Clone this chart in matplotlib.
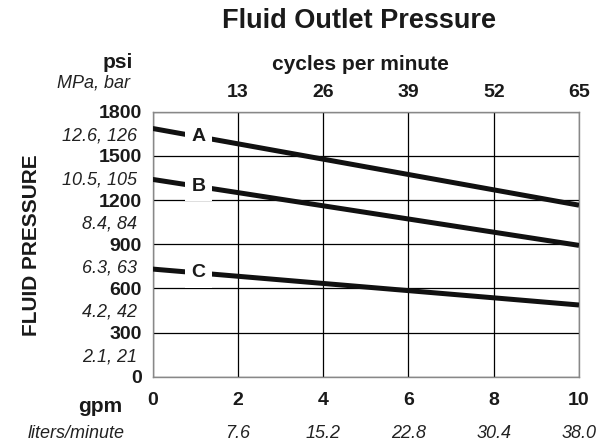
import matplotlib
matplotlib.use('Agg')
import matplotlib.pyplot as plt
import matplotlib.transforms as mtransforms

plt.rcParams['font.family'] = ['Liberation Sans', 'DejaVu Sans']

# flow (gpm) and fluid pressure (psi) for the three curves
gpm = [0, 10]
curve_a = [1686, 1165]
curve_b = [1340, 892]
curve_c = [731, 487]
curve_names = ['A', 'B', 'C']

gpm_ticks = [0, 2, 4, 6, 8, 10]
lpm_labels = ['7.6', '15.2', '22.8', '30.4', '38.0']
cpm_labels = ['13', '26', '39', '52', '65']
psi_ticks = [0, 300, 600, 900, 1200, 1500, 1800]
mpa_ticks = [150, 450, 750, 1050, 1350, 1650]
mpa_labels = ['2.1, 21', '4.2, 42', '6.3, 63', '8.4, 84', '10.5, 105', '12.6, 126']

ink = '#1a1a1a'

fig = plt.figure(figsize=(5.99, 4.47), dpi=100)
ax = fig.add_axes([152.7/599, 1-376.7/447, (579-152.7)/599, (376.7-111.7)/447])

for y, name in zip([curve_a, curve_b, curve_c], curve_names):
   ax.plot(gpm, y, color='#111111', lw=3.6, solid_capstyle='butt', zorder=3)
   ylab = y[0] + (y[1]-y[0]) * 1.07 / 10
   ax.text(1.07, ylab, name, fontsize=14, fontweight='bold', ha='center', va='center', color=ink,
           bbox=dict(facecolor='white', edgecolor='none', pad=4.5), zorder=4)

ax.set_xlim(0, 10)
ax.set_ylim(0, 1800)
ax.set_xticks(gpm_ticks)
ax.set_xticklabels([str(t) for t in gpm_ticks], fontsize=14, fontweight='bold', color=ink)
ax.set_yticks(psi_ticks)
ax.set_yticklabels([str(t) for t in psi_ticks], fontsize=14, fontweight='bold', color=ink)
ax.set_yticks(mpa_ticks, minor=True)
ax.set_yticklabels(mpa_labels, minor=True, fontsize=13, fontstyle='italic', color='#222222')
ax.tick_params(axis='both', which='both', length=0)
ax.tick_params(axis='x', pad=11)
ax.tick_params(axis='y', which='major', pad=8)
ax.tick_params(axis='y', which='minor', pad=11)
ax.grid(True, which='major', color='black', lw=0.9, zorder=1)
for s in ax.spines.values():
   s.set_color('#888888')
   s.set_linewidth(1.0)

sec = ax.secondary_xaxis('top')
sec.set_xticks(gpm_ticks[1:])
sec.set_xticklabels(cpm_labels, fontsize=14, fontweight='bold', color=ink)
sec.tick_params(length=0, pad=8)
sec.spines['top'].set_visible(False)

trans = mtransforms.blended_transform_factory(ax.transData, fig.transFigure)
for x, lab in zip(gpm_ticks[1:], lpm_labels):
   ax.text(x, 1-433/447, lab, transform=trans, fontsize=13, fontstyle='italic',
           color='#222222', ha='center', va='center')

fig.text(359/599, 1-21/447, 'Fluid Outlet Pressure', fontsize=19.5, fontweight='bold', color=ink, ha='center', va='center')
fig.text(360/599, 1-65/447, 'cycles per minute', fontsize=15, fontweight='bold', color=ink, ha='center', va='center')
fig.text(133/599, 1-62/447, 'psi', fontsize=15, fontweight='bold', color=ink, ha='right', va='center')
fig.text(130/599, 1-83/447, 'MPa, bar', fontsize=13, fontstyle='italic', color='#222222', ha='right', va='center')
fig.text(32/599, 1-245/447, 'FLUID PRESSURE', fontsize=15, fontweight='bold', color=ink, rotation=90, ha='center', va='center')
fig.text(122/599, 1-406/447, 'gpm', fontsize=15, fontweight='bold', color=ink, ha='right', va='center')
fig.text(125/599, 1-433/447, 'liters/minute', fontsize=13, fontstyle='italic', color='#222222', ha='right', va='center')

fig.savefig('out.png', dpi=100)
